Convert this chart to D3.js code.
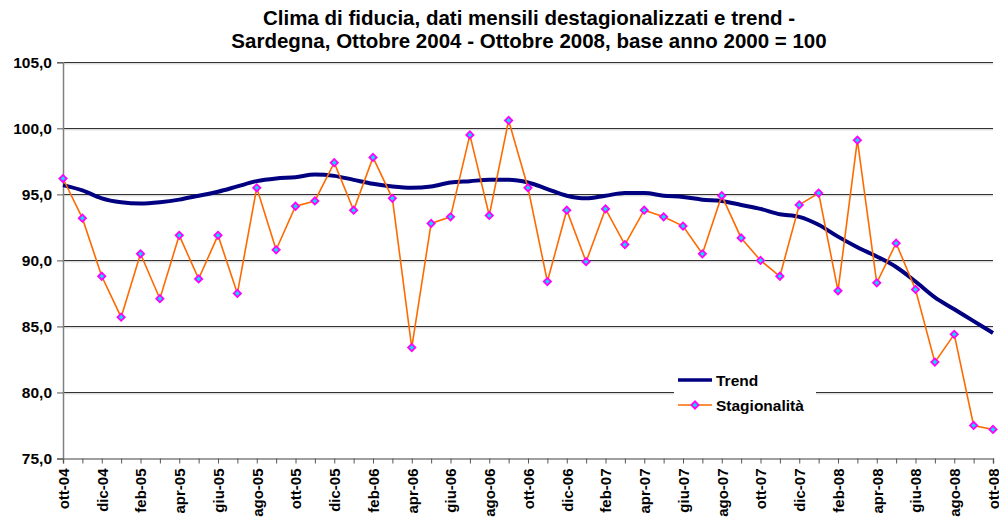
<!DOCTYPE html>
<html><head><meta charset="utf-8">
<script src="https://cdn.jsdelivr.net/npm/d3@7"></script>
<style>
html,body{margin:0;padding:0;background:#fff;}
text{font-family:"Liberation Sans",Arial,sans-serif;font-weight:bold;fill:#000;}
</style></head>
<body><svg id="c" width="999" height="523"></svg>
<script>
const months = ["ott-04","nov-04","dic-04","gen-05","feb-05","mar-05","apr-05","mag-05","giu-05","lug-05","ago-05","set-05",
"ott-05","nov-05","dic-05","gen-06","feb-06","mar-06","apr-06","mag-06","giu-06","lug-06","ago-06","set-06",
"ott-06","nov-06","dic-06","gen-07","feb-07","mar-07","apr-07","mag-07","giu-07","lug-07","ago-07","set-07",
"ott-07","nov-07","dic-07","gen-08","feb-08","mar-08","apr-08","mag-08","giu-08","lug-08","ago-08","set-08","ott-08"];
const trend = [95.7,95.3,94.7,94.4,94.3,94.4,94.6,94.9,95.2,95.6,96.0,96.2,
96.3,96.5,96.4,96.1,95.8,95.6,95.5,95.6,95.9,96.0,96.1,96.1,
95.9,95.4,94.9,94.7,94.9,95.1,95.1,94.9,94.8,94.6,94.5,94.2,
93.9,93.5,93.3,92.7,91.8,91.0,90.3,89.5,88.4,87.2,86.3,85.4,84.5];
const stagionalita = [96.2,93.2,88.8,85.7,90.5,87.1,91.9,88.6,91.9,87.5,95.5,90.8,
94.1,94.5,97.4,93.8,97.8,94.7,83.4,92.8,93.3,99.5,93.4,100.6,
95.5,88.4,93.8,89.9,93.9,91.2,93.8,93.3,92.6,90.5,94.9,91.7,
90.0,88.8,94.2,95.1,87.7,99.1,88.3,91.3,87.8,82.3,84.4,77.5,77.2];
const yTicks = [75,80,85,90,95,100,105];
const titleLines = ["Clima di fiducia, dati mensili destagionalizzati e trend -",
"Sardegna, Ottobre 2004 - Ottobre 2008, base anno 2000 = 100"];
const seriesNames = ["Trend","Stagionalità"];

const svg = d3.select("#c");
const L=63, R=993, T=62.3, B=458.5;
const x = d3.scalePoint().domain(months).range([L,R]);
const y = d3.scaleLinear().domain([75,105]).range([B,T]);

// title
svg.append("g").selectAll("text").data(titleLines).join("text")
  .attr("x",529).attr("y",(d,i)=>24.5+i*23.5).attr("text-anchor","middle")
  .style("font-size","20.5px").text(d=>d);

// gridlines
svg.append("g").selectAll("line").data(yTicks.filter(v=>v>75)).join("line")
  .attr("x1",L).attr("x2",R).attr("y1",d=>Math.round(y(d))+0.5).attr("y2",d=>Math.round(y(d))+0.5)
  .attr("stroke","#333").attr("stroke-width",1.2);
svg.append("g").selectAll("line").data(yTicks.filter(v=>v>75)).join("line")
  .attr("x1",L).attr("x2",R).attr("y1",d=>Math.round(y(d))+1.8).attr("y2",d=>Math.round(y(d))+1.8)
  .attr("stroke","#ccc").attr("stroke-width",1);

// y axis
const ya = svg.append("g").attr("transform",`translate(${L},0)`)
  .call(d3.axisLeft(y).tickValues(yTicks).tickSize(6).tickPadding(5).tickFormat(d=>d3.format(".1f")(d).replace(".",",")));
ya.select(".domain").attr("stroke","#808080").attr("stroke-width",1.5);
ya.selectAll(".tick line").attr("stroke","#555");
ya.selectAll(".tick text").style("font-size","15.5px").style("font-family","'Liberation Sans',Arial,sans-serif").style("font-weight","bold");

// x axis
const xa = svg.append("g").attr("transform",`translate(0,${B})`)
  .call(d3.axisBottom(x).tickSize(5).tickPadding(4).tickFormat((d,i)=>i%2===0?d:""));
xa.select(".domain").attr("stroke","#808080").attr("stroke-width",1.5);
xa.selectAll(".tick line").attr("stroke","#555");
xa.selectAll(".tick text").style("font-size","15px").style("font-family","'Liberation Sans',Arial,sans-serif").style("font-weight","bold")
  .attr("transform","rotate(-90)").attr("text-anchor","end").attr("dy","0.35em").attr("x",-10).attr("y",0);

// trend line
const line = d3.line().x((d,i)=>x(months[i])).y(d=>y(d));
const lineSmooth = d3.line().x((d,i)=>x(months[i])).y(d=>y(d)).curve(d3.curveMonotoneX);
svg.append("path").datum(trend).attr("d",lineSmooth).attr("fill","none")
  .attr("stroke","#000080").attr("stroke-width",4).attr("stroke-linejoin","round");

// stagionalita line
svg.append("path").datum(stagionalita).attr("d",line).attr("fill","none")
  .attr("stroke","#FF6A00").attr("stroke-width",1.6);

svg.append("g").selectAll("path").data(stagionalita).join("path")
  .attr("d",d3.symbol().type(d3.symbolSquare).size(26))
  .attr("transform",(d,i)=>`translate(${x(months[i])},${y(d)}) rotate(45)`)
  .attr("fill","#00E5FF").attr("stroke","#FF00FF").attr("stroke-width",1.8);

// legend
const lg = svg.append("g");
lg.append("rect").attr("x",674).attr("y",366).attr("width",142).attr("height",54).attr("fill","#fff");
lg.append("line").attr("x1",678).attr("x2",712).attr("y1",380).attr("y2",380).attr("stroke","#000080").attr("stroke-width",3.5);
lg.append("text").attr("x",716).attr("y",386).style("font-size","15.5px").text(seriesNames[0]);
lg.append("line").attr("x1",678).attr("x2",712).attr("y1",405).attr("y2",405).attr("stroke","#FF6A00").attr("stroke-width",1.6);
lg.append("path").attr("d",d3.symbol().type(d3.symbolSquare).size(26)).attr("transform","translate(695,405) rotate(45)")
  .attr("fill","#00E5FF").attr("stroke","#FF00FF").attr("stroke-width",1.8);
lg.append("text").attr("x",716).attr("y",411).style("font-size","15.5px").text(seriesNames[1]);
</script></body></html>
